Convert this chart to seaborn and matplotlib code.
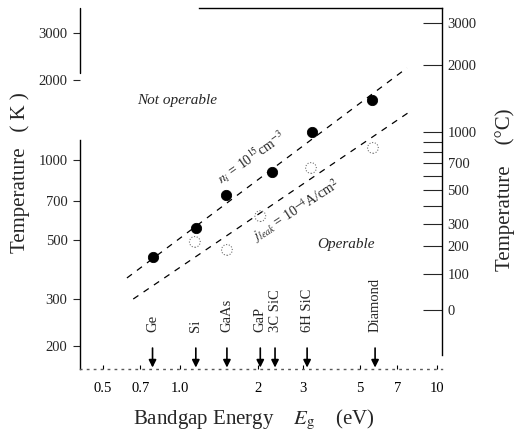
import matplotlib
matplotlib.use('Agg')
import matplotlib.pyplot as plt
import seaborn as sns
from matplotlib.ticker import NullLocator, FixedLocator, FixedFormatter

sns.set_style('ticks')
plt.rcParams['font.family'] = ['Liberation Serif', 'DejaVu Serif']
plt.rcParams['mathtext.fontset'] = 'stix'

# ---------------- data ----------------
materials = ['Ge', 'Si', 'GaAs', 'GaP', '3C SiC', '6H SiC', 'Diamond']
bandgap_eV = [0.78, 1.15, 1.52, 2.05, 2.34, 3.12, 5.74]

# intrinsic carrier concentration n_i = 1e15 cm^-3 (filled circles)
ni_E = [0.78, 1.15, 1.51, 2.28, 3.27, 5.58]
ni_T = [431, 555, 738, 901, 1274, 1682]
# leakage current criterion (open dotted circles)
leak_E = [1.14, 1.52, 2.05, 3.23, 5.63]
leak_T = [492, 459, 615, 933, 1110]

# dashed guide lines (end points)
ni_line_E = [0.62, 7.64]
ni_line_T = [360, 2218]
leak_line_E = [0.656, 7.71]
leak_line_T = [300, 1503]

xticks = [0.5, 0.7, 1.0, 2, 3, 5, 7, 10]
xticklabels = ['0.5', '0.7', '1.0', '2', '3', '5', '7', '10']
yticks_K = [200, 300, 500, 700, 1000, 2000, 3000]
yticks_C = [0, 100, 200, 300, 400, 500, 600, 700, 800, 900, 1000, 2000, 3000]
ylabels_C = ['0', '100', '200', '300', '', '500', '', '700', '', '', '1000', '2000', '3000']

# ---------------- figure ----------------
W, H = 527, 434
fig = plt.figure(figsize=(W / 100, H / 100), dpi=100)
L, R, T, B = 80, 442, 8, 369
ax = fig.add_axes([L / W, 1 - B / H, (R - L) / W, (B - T) / H])
ax.set_xscale('log')
ax.set_yscale('log')
xlim = (0.407, 10.46)
ylim = (163.7, 3727)

sns.lineplot(x=ni_line_E, y=ni_line_T, ax=ax, color='black', lw=0.9,
             linestyle=(0, (5, 5)))
sns.lineplot(x=leak_line_E, y=leak_line_T, ax=ax, color='black', lw=0.9,
             linestyle=(0, (5, 5)))
sns.scatterplot(x=ni_E, y=ni_T, ax=ax, color='black', s=55,
                edgecolor='black', zorder=4)
sns.scatterplot(x=leak_E, y=leak_T, ax=ax, facecolor='none', edgecolor='0.45',
                s=60, linewidth=0.8, linestyle=(0, (1, 1.5)), zorder=4)

ax.set_xlim(*xlim)
ax.set_ylim(*ylim)

# x axis
ax.xaxis.set_major_locator(FixedLocator(xticks))
ax.xaxis.set_major_formatter(FixedFormatter(xticklabels))
ax.xaxis.set_minor_locator(NullLocator())
ax.tick_params(axis='x', direction='in', length=3, width=0.8, pad=9,
               labelsize=10.5, colors='black')

# left y axis (K)
ax.yaxis.set_major_locator(FixedLocator(yticks_K))
ax.yaxis.set_major_formatter(FixedFormatter([str(v) for v in yticks_K]))
ax.yaxis.set_minor_locator(NullLocator())
ax.tick_params(axis='y', direction='out', length=5, width=0.8, pad=4,
               labelsize=10.5)

for s in ax.spines.values():
    s.set_linewidth(1.0)
    s.set_color('black')
ax.spines['right'].set_visible(False)
ax.spines['left'].set_bounds(ylim[0], 1189)
ax.spines['top'].set_bounds(1.186, xlim[1])
ax.spines['bottom'].set_linestyle((0, (1, 4)))
ax.spines['bottom'].set_color('0.35')
ax.plot([0, 0], [(B - 73) / (B - T), 1], transform=ax.transAxes,
        color='black', lw=1.0, clip_on=False)

# right y axis (deg C)
ax2 = ax.twinx()
ax2.set_yscale('log')
ax2.set_ylim(*ylim)
ax2.yaxis.set_major_locator(FixedLocator([c + 273 for c in yticks_C]))
ax2.yaxis.set_major_formatter(FixedFormatter(ylabels_C))
ax2.yaxis.set_minor_locator(NullLocator())
ax2.tick_params(axis='y', direction='in', length=14, width=0.8, pad=4,
                labelsize=10.5)
for k in ['left', 'top', 'bottom']:
    ax2.spines[k].set_visible(False)
ax2.spines['right'].set_bounds(185, ylim[1])
ax2.spines['right'].set_linewidth(1.0)
ax2.spines['right'].set_color('black')

# material arrows and labels
for name, e in zip(materials, bandgap_eV):
    ax.annotate('', xy=(e, 0.004), xycoords=('data', 'axes fraction'),
                xytext=(e, 0.058), textcoords=('data', 'axes fraction'),
                arrowprops=dict(arrowstyle='-|>', color='black', lw=1.2,
                                mutation_scale=11, shrinkA=0, shrinkB=0))
    ax.text(e, 0.102, name, rotation=90, ha='center', va='bottom',
            transform=ax.get_xaxis_transform(), fontsize=10.5)

# annotations
ax.text(0.268, 0.745, 'Not operable', style='italic', fontsize=11,
        ha='center', va='center', transform=ax.transAxes)
ax.text(0.735, 0.346, 'Operable', style='italic', fontsize=11,
        ha='center', va='center', transform=ax.transAxes)
ax.text(0.472, 0.584, r'$n_i$ = 10$^{15}$cm$^{-3}$', rotation=35,
        fontsize=10, ha='center', va='center', transform=ax.transAxes)
ax.text(0.597, 0.440, r'$j_{leak}$ = 10$^{-4}$A/cm$^2$', rotation=33,
        fontsize=10, ha='center', va='center', transform=ax.transAxes)

# axis titles
fig.text(20 / W, 1 - 173 / H, 'Temperature   ( K )', rotation=90,
         ha='center', va='center', fontsize=15)
fig.text(505 / W, 1 - 190 / H, 'Temperature    (°C)', rotation=90,
         ha='center', va='center', fontsize=15)
fig.text(254 / W, 1 - 420 / H, r'Bandgap Energy    $E_{\mathrm{g}}$    (eV)',
         ha='center', va='center', fontsize=15)

fig.savefig('out.png', dpi=100)
